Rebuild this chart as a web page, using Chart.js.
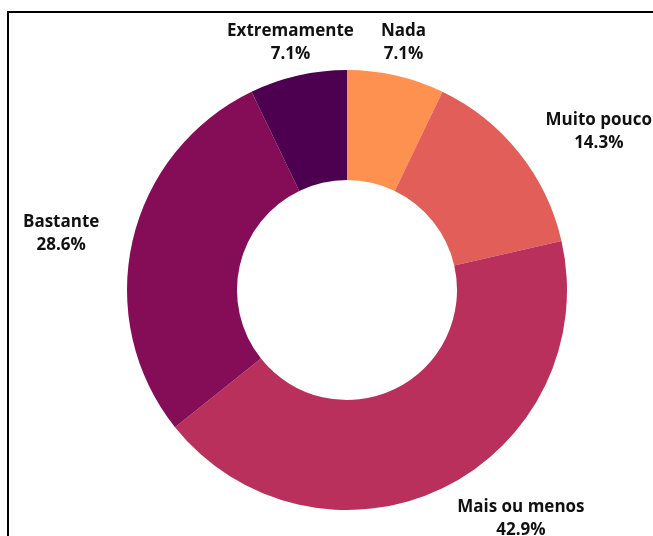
<!DOCTYPE html>
<html>
<head>
<meta charset="utf-8">
<script src="https://cdn.jsdelivr.net/npm/chart.js@4/dist/chart.umd.min.js"></script>
<style>
    html, body { margin: 0; padding: 0; background: #fff; overflow: hidden; }
    .frame {
        position: absolute; left: 7px; top: 11px;
        width: 700px; height: 600px;
        border: 2px solid #000; box-sizing: border-box;
    }
    .wrap { position: absolute; left: 0; top: 0; width: 653px; height: 536px; }
</style>
</head>
<body>
<div class="frame"></div>
<div class="wrap"><canvas id="myChart" width="653" height="536"></canvas></div>
<script>
document.addEventListener('DOMContentLoaded', function () {

    const categories = ['Nada', 'Muito pouco', 'Mais ou menos', 'Bastante', 'Extremamente'];
    const counts = [1, 2, 6, 4, 1];
    const colors = ['#fe9150', '#e25e58', '#b9305c', '#850d58', '#4e0050'];

    const total = counts.reduce((a, b) => a + b, 0);

    // outside labels: name + percent, anchored on the slice's mid angle
    const outsideLabels = {
        id: 'outsideLabels',
        afterDraw(chart) {
            const ctx = chart.ctx;
            const meta = chart.getDatasetMeta(0);
            const lineH = 23;
            const gap = 34;
            ctx.save();
            ctx.font = 'bold 17px "Open Sans"';
            ctx.fillStyle = '#111';
            ctx.textBaseline = 'middle';
            meta.data.forEach(function (arc, i) {
                const p = arc.getProps(['x', 'y', 'startAngle', 'endAngle', 'outerRadius'], true);
                const mid = (p.startAngle + p.endAngle) / 2;
                const dx = Math.cos(mid), dy = Math.sin(mid);
                const dist = p.outerRadius + gap;
                const ax = p.x + dx * dist;
                const ay = p.y + dy * dist;
                const pct = (counts[i] / total * 100).toFixed(1) + '%';
                const lines = [categories[i], pct];
                const widths = lines.map(t => ctx.measureText(t).width);
                const boxW = Math.max.apply(null, widths);
                // near the top/bottom the block is centred, on the sides it hangs off the anchor
                let left;
                if (Math.abs(dx) < 0.4) left = ax - boxW / 2;
                else if (dx > 0) left = ax;
                else left = ax - boxW;
                ctx.textAlign = 'center';
                lines.forEach(function (t, j) {
                    ctx.fillText(t, left + boxW / 2, ay + (j - 0.5) * lineH);
                });
            });
            ctx.restore();
        }
    };

    const ctx = document.getElementById('myChart').getContext('2d');
    new Chart(ctx, {
        type: 'doughnut',
        data: {
            labels: categories,
            datasets: [{
                data: counts,
                backgroundColor: colors,
                borderWidth: 0,
                hoverOffset: 0
            }]
        },
        options: {
            responsive: false,
            animation: false,
            cutout: '50%',
            layout: {
                padding: { top: 70, bottom: 26, left: 127, right: 86 }
            },
            plugins: {
                legend: { display: false },
                tooltip: { enabled: false }
            }
        },
        plugins: [outsideLabels]
    });

});
</script>
</body>
</html>
